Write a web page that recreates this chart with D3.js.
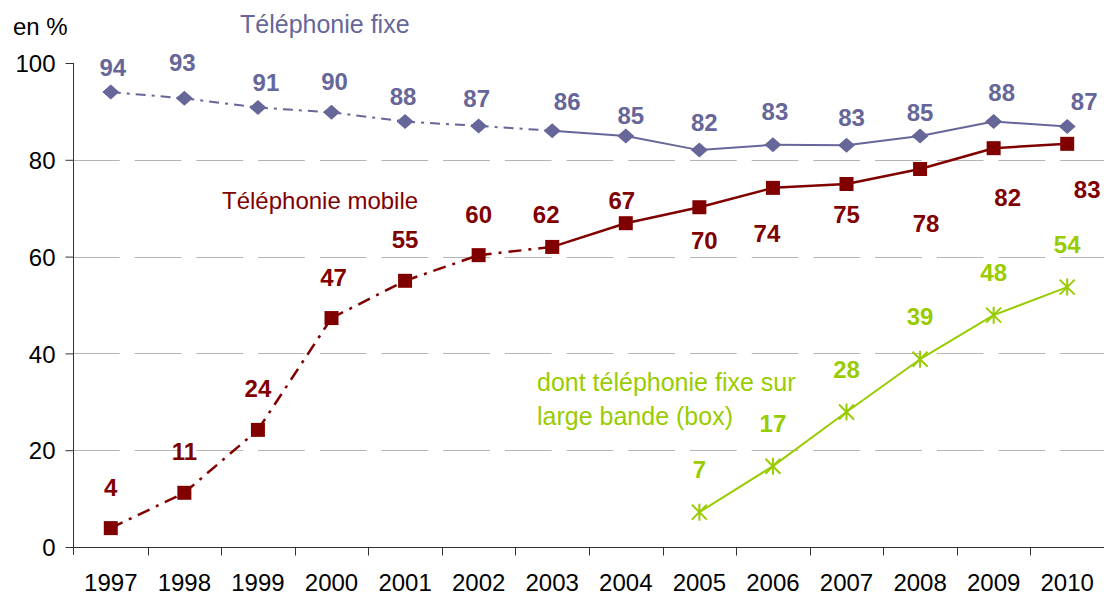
<!DOCTYPE html>
<html><head><meta charset="utf-8">
<script src="https://cdn.jsdelivr.net/npm/d3@7/dist/d3.min.js"></script>
<style>
html,body{margin:0;padding:0;background:#fff;}
svg{display:block;font-family:"Liberation Sans",Arial,sans-serif;}
</style></head>
<body>
<svg id="chart" width="1104" height="594"></svg>
<script>
// ---- data ----
const years = ["1997","1998","1999","2000","2001","2002","2003","2004","2005","2006","2007","2008","2009","2010"];
const fixeValues = [94.0,92.7,90.8,89.8,87.9,87.0,86.0,84.9,82.0,83.1,83.0,84.9,87.9,86.9];
const mobileValues = [3.9,11.2,24.2,47.3,55.0,60.3,62.0,66.9,70.2,74.2,75.0,78.1,82.4,83.3];
const boxYears = ["2005","2006","2007","2008","2009","2010"];
const boxValues = [7.2,16.7,27.9,38.8,47.9,53.7];
const yTicks = [0,20,40,60,80,100];
const dashedUntil = "2003"; // dash-dot segments up to this year, solid after

// label placement offsets (px, relative to the point)
const fixeLabelDx = [2,-2,8,3,-2,-2,15,5,5,2,5,0,8,17];
const fixeLabelDy = [-25,-36,-25,-31,-25,-28,-29,-21,-28,-33,-28,-24,-29,-25];
const mobileLabelDx = [0,0,0,2,0,0,-6,-4,5,-6,0,6,14,20];
const mobileLabelDy = [-41,-41,-42,-41,-41,-41,-33,-23,33,45,30,54,49,46];
const boxLabelDy = -43;

const C_FIXE = "#666699", C_MOB = "#800000", C_BOX = "#99cc00";

const svg = d3.select("#chart");
const x = d3.scaleBand().domain(years).range([74,1104]).paddingInner(0).paddingOuter(0);
const y = d3.scaleLinear().domain([0,100]).range([547,63]);
const cx = d => x(d) + x.bandwidth()/2;

// gridlines
svg.append("g").selectAll("line").data(yTicks.filter(t => t>0 && t<100)).join("line")
  .attr("x1",73).attr("x2",1104).attr("y1",d=>Math.round(y(d))+0.5).attr("y2",d=>Math.round(y(d))+0.5)
  .attr("stroke","#b4b4b4").attr("stroke-width",1).attr("stroke-dasharray","46.7,15");

// y axis
const yAxis = d3.axisLeft(y).tickValues(yTicks).tickSize(8).tickPadding(10).tickFormat(d3.format("d"));
const gy = svg.append("g").attr("transform","translate(73.5,0)").call(yAxis);
gy.select(".domain").attr("d","M0,"+y(100)+"V"+(y(0)+8)).attr("stroke","#333");
gy.selectAll(".tick line").attr("stroke","#333");
gy.selectAll(".tick text").attr("font-size",24).attr("fill","#000").attr("font-family","Liberation Sans, Arial, sans-serif").attr("dy","0.36em");

// x axis
const xAxis = d3.axisBottom(x).tickSize(0).tickPadding(0);
const gx = svg.append("g").attr("transform","translate(0,"+(Math.round(y(0))+0.5)+")").call(xAxis);
gx.select(".domain").attr("d","M73,0H1104").attr("stroke","#333");
gx.selectAll(".tick text").attr("font-size",24).attr("fill","#000").attr("font-family","Liberation Sans, Arial, sans-serif").attr("y",43).attr("dy",0);
// boundary tick marks
gx.append("g").selectAll("line").data(years.slice(1).concat(["end"])).join("line")
  .attr("x1",(d,i)=>Math.round(x.range()[0] + x.step()*(i+1))+0.5)
  .attr("x2",(d,i)=>Math.round(x.range()[0] + x.step()*(i+1))+0.5)
  .attr("y1",0).attr("y2",8).attr("stroke","#333");

// series drawing
function drawSeries(cats, vals, color, width, dash) {
  const g = svg.append("g");
  const pts = cats.map((c,i)=>({c, v: vals[i], i}));
  const cut = cats.indexOf(dashedUntil);
  for (let i=0;i<pts.length-1;i++){
    const a = pts[i], b = pts[i+1];
    const dashed = dash && cut>=0 && i < cut;
    g.append("path")
      .attr("d", d3.line().x(p=>cx(p.c)).y(p=>y(p.v))([a,b]))
      .attr("fill","none").attr("stroke",color).attr("stroke-width",width)
      .attr("stroke-dasharray", dashed ? dash : null);
  }
  return {g, pts};
}

// fixe
const sf = drawSeries(years, fixeValues, C_FIXE, 2, "10,6,3,6");
sf.g.selectAll("path.m").data(sf.pts).join("path").attr("class","m")
  .attr("d", p => { const X=cx(p.c), Y=y(p.v); return `M${X-8.5},${Y}L${X},${Y-7.5}L${X+8.5},${Y}L${X},${Y+7.5}Z`; })
  .attr("fill",C_FIXE);
// mobile
const sm = drawSeries(years, mobileValues, C_MOB, 2.5, "13,7,3,7");
sm.g.selectAll("rect").data(sm.pts).join("rect")
  .attr("x",p=>cx(p.c)-7).attr("y",p=>y(p.v)-7).attr("width",14).attr("height",14).attr("fill",C_MOB);
// box
const sb = drawSeries(boxYears, boxValues, C_BOX, 2, null);
sb.g.selectAll("path.m").data(sb.pts).join("path").attr("class","m")
  .attr("d", p => { const X=cx(p.c), Y=y(p.v), r=7.5;
    return `M${X-r},${Y-r}L${X+r},${Y+r}M${X-r},${Y+r}L${X+r},${Y-r}M${X},${Y-r-1}L${X},${Y+r+1}`; })
  .attr("stroke",C_BOX).attr("stroke-width",2).attr("fill","none");

// data labels
function labels(pts, color, dxArr, dyArr) {
  svg.append("g").selectAll("text").data(pts).join("text")
    .attr("x", p => cx(p.c) + (dxArr ? dxArr[p.i] : 0))
    .attr("y", p => y(p.v) + (Array.isArray(dyArr) ? dyArr[p.i] : dyArr))
    .attr("dy","0.36em").attr("text-anchor","middle")
    .attr("font-size",24).attr("font-weight","bold").attr("fill",color)
    .text(p => Math.round(p.v));
}
labels(sf.pts, C_FIXE, fixeLabelDx, fixeLabelDy);
labels(sm.pts, C_MOB, mobileLabelDx, mobileLabelDy);
labels(sb.pts, C_BOX, null, boxLabelDy);

// titles / annotations
const ann = svg.append("g").attr("font-size",24);
ann.append("text").attr("x",13).attr("y",35).attr("fill","#000").text("en %");
ann.append("text").attr("x",240).attr("y",33).attr("font-size",25).attr("fill",C_FIXE).text("Téléphonie fixe");
ann.append("text").attr("x",222).attr("y",209).attr("fill",C_MOB).text("Téléphonie mobile");
ann.append("text").attr("x",537).attr("y",391).attr("font-size",25).attr("fill",C_BOX).text("dont téléphonie fixe sur");
ann.append("text").attr("x",537).attr("y",425).attr("font-size",25).attr("fill",C_BOX).text("large bande (box)");
</script>
</body></html>
